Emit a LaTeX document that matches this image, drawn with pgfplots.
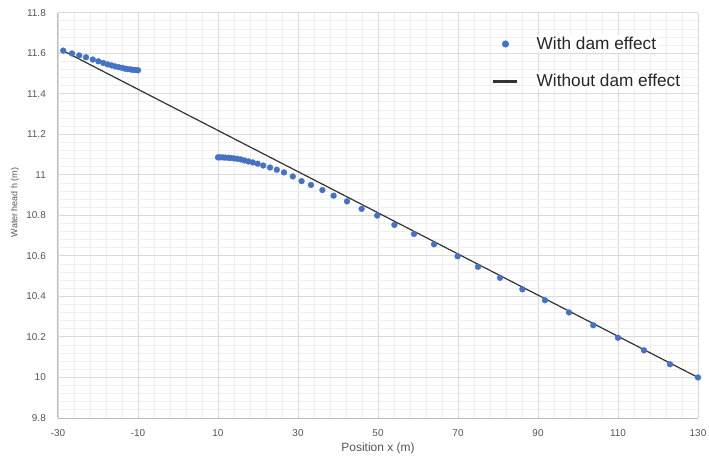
\documentclass[border=0pt]{standalone}
\usepackage{fontspec}
\setmainfont{Liberation Sans}
\usepackage{pgfplots}
\pgfplotsset{compat=1.18}
\definecolor{dotblue}{HTML}{4472C4}
\definecolor{majgrid}{HTML}{D9D9D9}
\definecolor{mingrid}{HTML}{EEEEEE}
\definecolor{axisgray}{HTML}{BDBDBD}
\definecolor{textgray}{HTML}{555555}
\pgfplotsset{
  dotlegend/.style={legend image code/.code={\draw[##1, mark size=3.3bp] plot coordinates {(12bp,0bp)};}},
  linelegend/.style={legend image code/.code={\draw[##1, line width=2.5bp] (0bp,0bp) -- (24bp,0bp);}},
}
\begin{document}
\begin{tikzpicture}
\begin{axis}[
  name=ax,
  scale only axis,
  width=640bp, height=405.3bp,
  xmin=-30, xmax=130, ymin=9.8, ymax=11.8,
  axis x line*=bottom, axis y line*=left,
  axis line style={draw=axisgray, line width=1bp, -},
  xtick={-30,-10,10,30,50,70,90,110,130},
  xticklabels={-30,-10,10,30,50,70,90,110,130},
  ytick={9.8,10,10.2,10.4,10.6,10.8,11,11.2,11.4,11.6,11.8},
  yticklabels={9.8,10,10.2,10.4,10.6,10.8,11,11.2,11.4,11.6,11.8},
  minor x tick num=4, minor y tick num=4,
  grid=both,
  major grid style={draw=majgrid, line width=0.9bp},
  minor grid style={draw=mingrid, line width=0.8bp},
  major tick length=0pt, minor tick length=0pt,
  tick label style={font=\fontsize{10}{12}\selectfont, text=textgray},
  yticklabel style={anchor=east, inner sep=0pt, xshift=-12bp},
  xticklabel style={anchor=north, inner sep=0pt, yshift=-11bp},
  xlabel={Position x (m)},
  ylabel={Water head h (m)},
  xlabel style={at={(axis description cs:0.5,-0.074)}, anchor=center, font=\fontsize{12}{14}\selectfont, text=textgray},
  ylabel style={at={(axis description cs:-0.0672,0.532)}, anchor=center, font=\fontsize{9}{11}\selectfont, text=textgray},
  legend style={at={(rel axis cs:0.6735,0.9504)}, anchor=north west, draw=none, fill=none,
    font=\fontsize{17.3}{20}\selectfont, text=black!85, row sep=19.5bp, column sep=16bp,
    nodes={fill=white, inner sep=2bp}},
  legend cell align=left,
  clip=false,
]
\addplot[only marks, mark=*, mark size=2.9bp, color=dotblue, mark options={draw=dotblue, fill=dotblue}, dotlegend] table {
x y
-28.7 11.613
-26.5 11.599
-24.7 11.589
-23.0 11.580
-21.3 11.569
-19.9 11.560
-18.7 11.552
-17.6 11.545
-16.6 11.540
-15.7 11.535
-14.8 11.531
-14.0 11.528
-13.25 11.524
-12.6 11.522
-11.8 11.520
-11.2 11.518
-10.5 11.517
-10.0 11.516
10.0 11.086
10.5 11.086
11.2 11.086
11.8 11.085
12.6 11.084
13.25 11.083
14.0 11.081
14.8 11.079
15.7 11.076
16.6 11.071
17.6 11.066
18.7 11.061
19.9 11.055
21.3 11.046
23.0 11.036
24.7 11.025
26.5 11.012
28.7 10.992
30.9 10.969
33.25 10.950
36.1 10.925
38.9 10.897
42.25 10.869
45.9 10.832
49.8 10.799
54.1 10.753
59.0 10.708
64.0 10.657
69.9 10.598
75.0 10.546
80.5 10.492
86.1 10.435
91.75 10.381
97.75 10.321
103.8 10.258
110.0 10.196
116.5 10.134
123.0 10.065
130.0 10.000
};
\addlegendentry{With dam effect}
\addplot[no marks, draw=black!80, line width=1.2bp, linelegend] coordinates {(-29,11.615) (130,10.0)};
\addlegendentry{Without dam effect}
\end{axis}
\pgfresetboundingbox
\path (ax.south west) +(-58bp,-43bp) (ax.north east) +(11bp,12.7bp);
\end{tikzpicture}
\end{document}
